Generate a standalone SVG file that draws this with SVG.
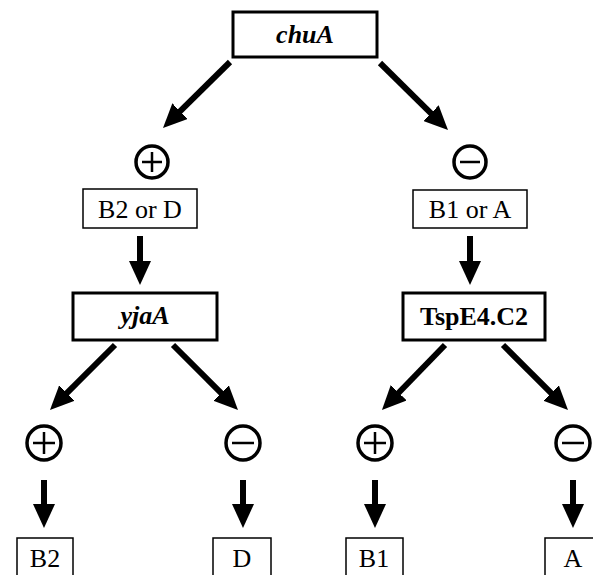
<svg xmlns="http://www.w3.org/2000/svg" width="593" height="575" viewBox="0 0 593 575">
<style>
.thick{fill:#fff;stroke:#000;stroke-width:3}
.thin{fill:#fff;stroke:#000;stroke-width:1.5}
.gene{font-family:"Liberation Serif",serif;font-size:26px;font-weight:bold;font-style:italic;text-anchor:middle}
.bold{font-family:"Liberation Serif",serif;font-size:26px;font-weight:bold;text-anchor:middle}
.lbl{font-family:"Liberation Serif",serif;font-size:26px;text-anchor:middle}
.sig{fill:#fff;stroke:#000;stroke-width:3.5}
.sg{stroke:#000;stroke-width:2.5;fill:none}
.arr{stroke:#000;stroke-width:6;fill:none;marker-end:url(#ah)}
</style>
<defs>
<marker id="ah" markerUnits="userSpaceOnUse" markerWidth="24" markerHeight="22" refX="8" refY="11" orient="auto">
<path d="M0,0 L24,11 L0,22 z" fill="#000"/>
</marker>
</defs>
<rect width="593" height="575" fill="#fff"/>
<g id="connectors">
<line class="arr" x1="230" y1="62" x2="174.4" y2="116.8"/>
<line class="arr" x1="380" y1="63" x2="436.6" y2="118.8"/>
<line class="arr" x1="140" y1="236" x2="140" y2="269"/>
<line class="arr" x1="470" y1="236" x2="470" y2="269"/>
<line class="arr" x1="115" y1="345" x2="61.3" y2="398.7"/>
<line class="arr" x1="173" y1="345" x2="226.7" y2="398.7"/>
<line class="arr" x1="445" y1="345" x2="393.1" y2="398.5"/>
<line class="arr" x1="503" y1="345" x2="556.7" y2="398.7"/>
<line class="arr" x1="44" y1="480" x2="44" y2="512"/>
<line class="arr" x1="243" y1="480" x2="243" y2="512"/>
<line class="arr" x1="375" y1="480" x2="375" y2="512"/>
<line class="arr" x1="573" y1="480" x2="573" y2="512"/>
</g>
<g id="chuA"><rect class="thick" x="233" y="12" width="144" height="45"/><text class="gene" x="305" y="43">chuA</text></g>
<g id="plus1"><circle class="sig" cx="152" cy="162" r="16"/><path class="sg" d="M142,162 H162 M152,152 V172"/></g>
<g id="minus1"><circle class="sig" cx="470" cy="162" r="16"/><path class="sg" d="M460,162 H480"/></g>
<g id="B2orD"><rect class="thin" x="83" y="189" width="114" height="39"/><text class="lbl" x="140" y="218">B2 or D</text></g>
<g id="B1orA"><rect class="thin" x="413" y="190" width="114" height="38"/><text class="lbl" x="470" y="218">B1 or A</text></g>
<g id="yjaA"><rect class="thick" x="73" y="293" width="144" height="47"/><text class="gene" x="145" y="324">yjaA</text></g>
<g id="TspE4C2"><rect class="thick" x="403" y="293" width="142" height="47"/><text class="bold" x="474" y="325">TspE4.C2</text></g>
<g id="plus2"><circle class="sig" cx="44" cy="443" r="17"/><path class="sg" d="M33,443 H55 M44,432 V454"/></g>
<g id="minus2"><circle class="sig" cx="243" cy="443" r="17"/><path class="sg" d="M232,443 H254"/></g>
<g id="plus3"><circle class="sig" cx="375" cy="443" r="17"/><path class="sg" d="M364,443 H386 M375,432 V454"/></g>
<g id="minus3"><circle class="sig" cx="573" cy="443" r="17"/><path class="sg" d="M562,443 H584"/></g>
<g id="B2"><rect class="thin" x="17" y="538" width="56" height="40"/><text class="lbl" x="45" y="567">B2</text></g>
<g id="D"><rect class="thin" x="213" y="538" width="58" height="40"/><text class="lbl" x="242" y="567">D</text></g>
<g id="B1"><rect class="thin" x="346" y="538" width="57" height="40"/><text class="lbl" x="374" y="567">B1</text></g>
<g id="A"><rect class="thin" x="545" y="538" width="57" height="40"/><text class="lbl" x="573" y="567">A</text></g>
</svg>
